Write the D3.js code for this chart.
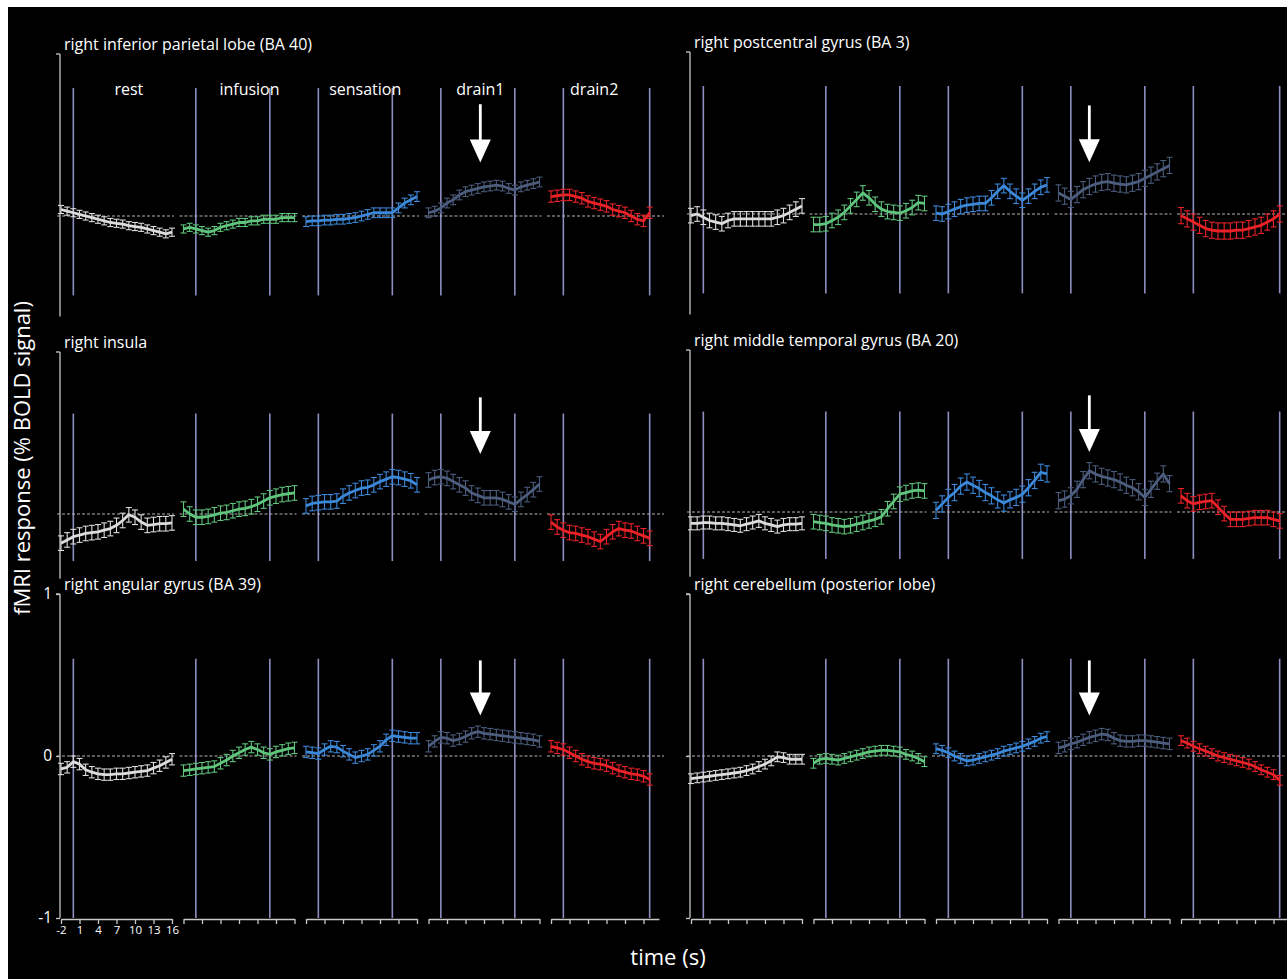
<!DOCTYPE html>
<html>
<head>
<meta charset="utf-8">
<script src="https://cdn.jsdelivr.net/npm/d3@7/dist/d3.min.js"></script>
<style>
  body { margin: 0; background: #fff; }
  text { font-family: "Open Sans", sans-serif; fill: #fff; }
</style>
</head>
<body>
<script>
var phases = ['rest', 'infusion', 'sensation', 'drain1', 'drain2'];
var phaseColors = ['#dcdcdc', '#5fc47c', '#3b87d8', '#4b5c7c', '#ea2228'];
var phaseLabelT = [9, 8.7, 7.6, 6.4, 5];
var eventTimes = [[0], [0, 12], [0, 12], [0, 12], [0, 14]];
var times = [-2, -1, 0, 1, 2, 3, 4, 5, 6, 7, 8, 9, 10, 11, 12, 13, 14, 15, 16];
var timesDrain2 = [-2, -1, 0, 1, 2, 3, 4, 5, 6, 7, 8, 9, 10, 11, 12, 13, 14];
var xTickValues = [-2, 1, 4, 7, 10, 13, 16];
var xTickValuesDrain2 = [-2, 1, 4, 7, 10, 13];
var yTickValues = [-1, 0, 1];

// right inferior parietal lobe (BA 40)
var iplMean = [
  [0.04, 0.03, 0.02, 0.01, 0.0, -0.01, -0.02, -0.03, -0.04, -0.045, -0.05, -0.06, -0.065, -0.07, -0.08, -0.09, -0.10, -0.11, -0.10],
  [-0.08, -0.07, -0.08, -0.09, -0.10, -0.09, -0.07, -0.06, -0.05, -0.04, -0.04, -0.03, -0.03, -0.02, -0.02, -0.02, -0.01, -0.01, -0.01],
  [-0.035, -0.03, -0.03, -0.025, -0.025, -0.02, -0.02, -0.015, -0.01, 0.0, 0.01, 0.02, 0.02, 0.02, 0.02, 0.05, 0.08, 0.10, 0.12],
  [0.02, 0.03, 0.05, 0.08, 0.10, 0.13, 0.15, 0.16, 0.17, 0.18, 0.185, 0.19, 0.185, 0.17, 0.16, 0.18, 0.19, 0.20, 0.21],
  [0.12, 0.125, 0.13, 0.13, 0.12, 0.11, 0.09, 0.08, 0.07, 0.06, 0.04, 0.03, 0.02, 0.0, -0.02, -0.03, 0.02]
];
var iplSE = [0.025, 0.025, 0.03, 0.03, 0.035];

// right postcentral gyrus (BA 3)
var pcgMean = [
  [-0.01, 0.0, -0.02, -0.04, -0.05, -0.06, -0.04, -0.03, -0.03, -0.03, -0.03, -0.03, -0.03, -0.03, -0.02, -0.01, 0.01, 0.03, 0.05],
  [-0.065, -0.065, -0.06, -0.04, -0.02, 0.01, 0.05, 0.09, 0.13, 0.10, 0.06, 0.03, 0.015, 0.01, 0.005, 0.02, 0.04, 0.07, 0.065],
  [0.005, 0.0, 0.015, 0.03, 0.045, 0.055, 0.06, 0.065, 0.065, 0.10, 0.14, 0.175, 0.14, 0.11, 0.085, 0.11, 0.14, 0.165, 0.18],
  [0.13, 0.11, 0.09, 0.12, 0.15, 0.17, 0.185, 0.195, 0.20, 0.19, 0.185, 0.18, 0.19, 0.20, 0.22, 0.24, 0.26, 0.28, 0.30],
  [-0.01, -0.03, -0.05, -0.07, -0.09, -0.10, -0.105, -0.105, -0.105, -0.10, -0.10, -0.09, -0.08, -0.07, -0.05, -0.03, 0.0]
];
var pcgSE = [0.045, 0.045, 0.045, 0.05, 0.05];

// right insula
var insMean = [
  [-0.18, -0.16, -0.14, -0.13, -0.12, -0.115, -0.11, -0.10, -0.09, -0.07, -0.04, -0.005, -0.02, -0.05, -0.07, -0.065, -0.06, -0.06, -0.055],
  [0.03, 0.0, -0.02, -0.02, -0.015, -0.005, 0.005, 0.01, 0.02, 0.03, 0.035, 0.045, 0.06, 0.08, 0.10, 0.11, 0.12, 0.125, 0.13],
  [0.05, 0.065, 0.07, 0.075, 0.075, 0.08, 0.11, 0.13, 0.145, 0.16, 0.165, 0.18, 0.20, 0.215, 0.23, 0.225, 0.215, 0.205, 0.18],
  [0.21, 0.225, 0.23, 0.22, 0.20, 0.18, 0.16, 0.13, 0.115, 0.10, 0.10, 0.10, 0.09, 0.075, 0.06, 0.09, 0.12, 0.15, 0.185],
  [-0.05, -0.08, -0.10, -0.115, -0.12, -0.13, -0.14, -0.155, -0.17, -0.14, -0.11, -0.09, -0.10, -0.105, -0.12, -0.135, -0.15]
];
var insSE = [0.045, 0.045, 0.045, 0.045, 0.045];

// right middle temporal gyrus (BA 20)
var mtgMean = [
  [-0.07, -0.07, -0.065, -0.065, -0.07, -0.07, -0.075, -0.08, -0.085, -0.075, -0.065, -0.055, -0.07, -0.08, -0.09, -0.08, -0.075, -0.075, -0.07],
  [-0.06, -0.065, -0.07, -0.08, -0.085, -0.09, -0.085, -0.075, -0.065, -0.055, -0.045, -0.03, 0.02, 0.065, 0.11, 0.12, 0.13, 0.135, 0.13],
  [0.01, 0.05, 0.09, 0.12, 0.16, 0.185, 0.165, 0.145, 0.12, 0.10, 0.075, 0.055, 0.075, 0.09, 0.11, 0.15, 0.195, 0.245, 0.235],
  [0.07, 0.08, 0.10, 0.14, 0.20, 0.255, 0.235, 0.22, 0.21, 0.20, 0.185, 0.165, 0.15, 0.125, 0.09, 0.14, 0.19, 0.235, 0.175],
  [0.10, 0.07, 0.05, 0.06, 0.065, 0.07, 0.03, -0.01, -0.045, -0.045, -0.045, -0.04, -0.035, -0.035, -0.035, -0.045, -0.055]
];
var mtgSE = [0.04, 0.045, 0.05, 0.05, 0.045];

// right angular gyrus (BA 39)
var angMean = [
  [-0.08, -0.07, -0.035, -0.05, -0.085, -0.10, -0.11, -0.115, -0.115, -0.11, -0.11, -0.105, -0.10, -0.095, -0.09, -0.075, -0.06, -0.04, -0.02],
  [-0.09, -0.085, -0.08, -0.075, -0.07, -0.065, -0.045, -0.025, 0.0, 0.02, 0.04, 0.055, 0.04, 0.02, 0.01, 0.025, 0.035, 0.045, 0.05],
  [0.025, 0.02, 0.015, 0.04, 0.06, 0.055, 0.03, 0.01, -0.01, 0.0, 0.01, 0.035, 0.06, 0.10, 0.125, 0.12, 0.115, 0.11, 0.11],
  [0.06, 0.09, 0.115, 0.11, 0.095, 0.105, 0.12, 0.14, 0.15, 0.14, 0.135, 0.13, 0.125, 0.12, 0.115, 0.11, 0.105, 0.10, 0.09],
  [0.06, 0.05, 0.04, 0.02, 0.0, -0.02, -0.035, -0.045, -0.05, -0.06, -0.075, -0.09, -0.10, -0.11, -0.115, -0.125, -0.145]
];
var angSE = [0.035, 0.035, 0.035, 0.035, 0.035];

// right cerebellum (posterior lobe)
var cerMean = [
  [-0.14, -0.135, -0.13, -0.125, -0.12, -0.115, -0.11, -0.105, -0.10, -0.09, -0.08, -0.065, -0.05, -0.03, -0.005, -0.01, -0.02, -0.02, -0.02],
  [-0.045, -0.02, -0.015, -0.02, -0.025, -0.015, -0.005, 0.005, 0.015, 0.025, 0.03, 0.035, 0.035, 0.03, 0.025, 0.01, 0.0, -0.015, -0.035],
  [0.045, 0.035, 0.02, 0.0, -0.015, -0.03, -0.025, -0.015, -0.005, 0.005, 0.015, 0.03, 0.04, 0.05, 0.06, 0.075, 0.09, 0.11, 0.12],
  [0.05, 0.06, 0.075, 0.085, 0.10, 0.115, 0.125, 0.135, 0.13, 0.11, 0.095, 0.09, 0.09, 0.095, 0.095, 0.09, 0.085, 0.08, 0.075],
  [0.095, 0.08, 0.06, 0.045, 0.03, 0.015, 0.0, -0.01, -0.02, -0.03, -0.04, -0.05, -0.065, -0.085, -0.10, -0.115, -0.15]
];
var cerSE = [0.03, 0.03, 0.03, 0.035, 0.03];

var panels = [
  {title: 'right inferior parietal lobe (BA 40)', row: 0, col: 0, mean: iplMean, se: iplSE, arrow: [0.69, 0.33]},
  {title: 'right postcentral gyrus (BA 3)', row: 0, col: 1, mean: pcgMean, se: pcgSE, arrow: [0.67, 0.32]},
  {title: 'right insula', row: 1, col: 0, mean: insMean, se: insSE, arrow: [0.72, 0.37]},
  {title: 'right middle temporal gyrus (BA 20)', row: 1, col: 1, mean: mtgMean, se: mtgSE, arrow: [0.72, 0.37]},
  {title: 'right angular gyrus (BA 39)', row: 2, col: 0, mean: angMean, se: angSE, arrow: [0.59, 0.25]},
  {title: 'right cerebellum (posterior lobe)', row: 2, col: 1, mean: cerMean, se: cerSE, arrow: [0.59, 0.25]}
];
var arrowT = [6.4, 3.0];

var screen = {width: 1287, height: 979};
var colLeft = [61, 691];
var colShift = [0, -2];
var rowTop = [54, 352, 594];
var rowAxisBottom = [-0.62, -0.4, -1];
var rowEventTop = [0.79, 0.62, 0.6];
var rowEventBottom = [-0.49, -0.29, -1];

var svg = d3.select('body').append('svg')
            .attr('width', screen.width)
            .attr('height', screen.height);
svg.append('rect')
   .attr('x', 8).attr('y', 7)
   .attr('width', screen.width - 8).attr('height', screen.height - 7)
   .attr('fill', '#000');

var segBand = d3.scaleBand()
                .domain(phases)
                .range([0, 601])
                .paddingInner(0.094)
                .paddingOuter(0);
var tScale = d3.scaleLinear().domain([-2, 16]).range([0, segBand.bandwidth()]);

var line = d3.line()
             .x(function(d){ return d.x; })
             .y(function(d){ return d.y; });

panels.forEach(function(p){
  var top = rowTop[p.row] + (p.row < 2 ? colShift[p.col] : 0);
  var y = d3.scaleLinear().domain([-1, 1]).range([top + 324, top]);
  var g = svg.append('g')
             .attr('transform', 'translate(' + colLeft[p.col] + ',0)');

  // y axis line and top tick
  g.append('line')
   .attr('x1', -1).attr('x2', -1)
   .attr('y1', y(1)).attr('y2', y(rowAxisBottom[p.row]))
   .attr('stroke', '#c8c8c8').attr('stroke-width', 1.3);
  g.append('line')
   .attr('x1', -5).attr('x2', -1)
   .attr('y1', y(1)).attr('y2', y(1))
   .attr('stroke', '#c8c8c8').attr('stroke-width', 1.3);

  if (p.row == 2){
    var yAxis = g.append('g')
                 .attr('transform', 'translate(-1,0)')
                 .call(d3.axisLeft(y).tickValues(yTickValues).tickSize(4).tickSizeOuter(0)
                         .tickFormat(function(d){ return p.col == 0 ? d : ''; }));
    yAxis.select('.domain').remove();
    yAxis.selectAll('line').attr('stroke', '#c8c8c8').attr('stroke-width', 1.3);
    yAxis.selectAll('text').attr('font-size', 15.5).attr('dx', -1).attr('fill', '#fff');
  }

  g.append('text')
   .attr('x', 3)
   .attr('y', y(1) - 4)
   .attr('font-size', 16)
   .text(p.title);

  phases.forEach(function(ph, si){
    var sx = segBand(ph);
    var seg = g.append('g').attr('transform', 'translate(' + sx + ',0)');
    var ts = si == 4 ? timesDrain2 : times;

    // event lines
    eventTimes[si].forEach(function(et){
      seg.append('line')
         .attr('x1', tScale(et)).attr('x2', tScale(et))
         .attr('y1', y(rowEventTop[p.row])).attr('y2', y(rowEventBottom[p.row]))
         .attr('stroke', '#8e8ec4').attr('stroke-width', 1.6);
    });

    // zero line
    seg.append('line')
       .attr('x1', tScale(-2) - 4).attr('x2', tScale(16) + 2)
       .attr('y1', y(0)).attr('y2', y(0))
       .attr('stroke', '#b4b4b4').attr('stroke-width', 1)
       .attr('stroke-dasharray', '3,2');

    // bottom x axis
    if (p.row == 2){
      var axScale = si == 4 ? tScale.copy().domain([-2, 15.5]).range([0, tScale(15.5)]) : tScale;
      var xAxis = seg.append('g')
                     .attr('transform', 'translate(0,' + (y(-1) + 1) + ')')
                     .call(d3.axisBottom(axScale)
                             .tickValues(si == 4 ? xTickValuesDrain2 : xTickValues)
                             .tickSize(5).tickSizeOuter(0)
                             .tickFormat(function(d){ return (p.col == 0 && si == 0) ? d : ''; }));
      xAxis.select('.domain').attr('stroke', '#c8c8c8').attr('stroke-width', 1.3);
      xAxis.selectAll('line').attr('stroke', '#c8c8c8').attr('stroke-width', 1.3);
      xAxis.selectAll('text').attr('font-size', 11.5).attr('dy', '0.6em').attr('fill', '#fff');
    }

    var pts = ts.map(function(t, i){
      return {x: tScale(t), y: y(p.mean[si][i]), lo: y(p.mean[si][i] - p.se[si]), hi: y(p.mean[si][i] + p.se[si])};
    });
    var color = phaseColors[si];

    seg.selectAll('line.err')
       .data(pts).enter().append('line')
       .classed('err', true)
       .attr('x1', function(d){ return d.x; }).attr('x2', function(d){ return d.x; })
       .attr('y1', function(d){ return d.lo; }).attr('y2', function(d){ return d.hi; })
       .attr('stroke', color).attr('stroke-width', 1.1);
    ['lo', 'hi'].forEach(function(k){
      seg.selectAll('line.cap' + k)
         .data(pts).enter().append('line')
         .classed('cap' + k, true)
         .attr('x1', function(d){ return d.x - 3; }).attr('x2', function(d){ return d.x + 3; })
         .attr('y1', function(d){ return d[k]; }).attr('y2', function(d){ return d[k]; })
         .attr('stroke', color).attr('stroke-width', 1.1);
    });
    seg.append('path')
       .attr('d', line(pts))
       .attr('fill', 'none')
       .attr('stroke', color)
       .attr('stroke-width', 2.8)
       .attr('stroke-linejoin', 'round');

    if (p.row == 0 && p.col == 0){
      seg.append('text')
         .attr('x', tScale(phaseLabelT[si]))
         .attr('y', 95)
         .attr('text-anchor', 'middle')
         .attr('font-size', 16)
         .text(ph);
    }

    if (ph == 'drain1'){
      var ax = tScale(arrowT[p.col]);
      var yTop = y(p.arrow[0]), yTip = y(p.arrow[1]);
      seg.append('line')
         .attr('x1', ax).attr('x2', ax)
         .attr('y1', yTop).attr('y2', yTip - 18)
         .attr('stroke', '#fff').attr('stroke-width', 2.8);
      seg.append('path')
         .attr('d', 'M' + (ax - 10.5) + ',' + (yTip - 23) + 'L' + (ax + 10.5) + ',' + (yTip - 23) + 'L' + ax + ',' + yTip + 'Z')
         .attr('fill', '#fff');
    }
  });
});

svg.append('text')
   .attr('transform', 'translate(30,458) rotate(-90)')
   .attr('text-anchor', 'middle')
   .attr('font-size', 22)
   .text('fMRI response (% BOLD signal)');

svg.append('text')
   .attr('x', 668)
   .attr('y', 965)
   .attr('text-anchor', 'middle')
   .attr('font-size', 22)
   .text('time (s)');
</script>
</body>
</html>
